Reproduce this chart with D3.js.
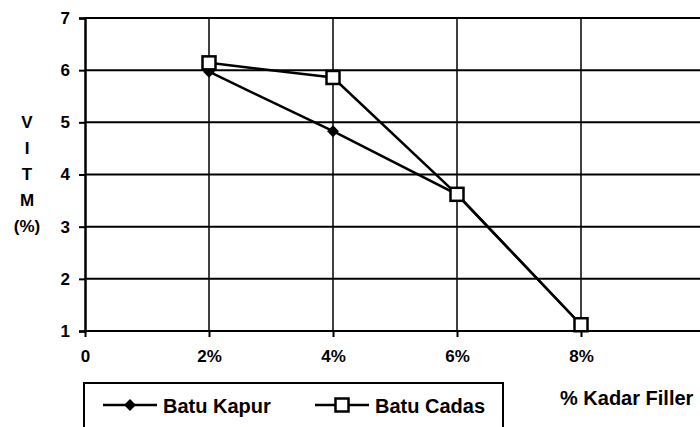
<!DOCTYPE html>
<html>
<head>
<meta charset="utf-8">
<script src="https://cdn.jsdelivr.net/npm/d3@7"></script>
<style>
  body { margin: 0; background: #fff; }
  text { font-family: "Liberation Sans", Arial, sans-serif; font-weight: bold; fill: #000; }
</style>
</head>
<body>
<svg id="chart"></svg>
<script>
// filler content (%) and VITM (%) values
const kadar = [2, 4, 6, 8];
const batuKapur = [5.97, 4.83, 3.62, 1.12];
const batuCadas = [6.14, 5.86, 3.62, 1.12];
const xTicks = [0, 2, 4, 6, 8];
const xTickLabels = ['0', '2%', '4%', '6%', '8%'];
const yTicks = [1, 2, 3, 4, 5, 6, 7];
const seriesNames = ['Batu Kapur', 'Batu Cadas'];

const width = 700, height = 427;
const svg = d3.select('#chart').attr('width', width).attr('height', height);

const x = d3.scaleLinear().domain([0, 10]).range([85, 705]);
const y = d3.scaleLinear().domain([1, 7]).range([331, 18]);

// horizontal gridlines
svg.append('g')
    .selectAll('line')
    .data(yTicks)
  .join('line')
    .attr('x1', x(0)).attr('x2', width)
    .attr('y1', d => y(d)).attr('y2', d => y(d))
    .attr('stroke', '#000').attr('stroke-width', 2);

// vertical gridlines
svg.append('g')
    .selectAll('line')
    .data(xTicks.slice(1))
  .join('line')
    .attr('x1', d => x(d)).attr('x2', d => x(d))
    .attr('y1', y(7)).attr('y2', y(1))
    .attr('stroke', '#000').attr('stroke-width', 1.5);

// y axis
const yAxis = d3.axisLeft(y).tickValues(yTicks).tickSize(6).tickPadding(9).tickFormat(d3.format('d'));
svg.append('g')
    .attr('transform', `translate(${x(0)},0)`)
    .call(yAxis)
    .call(g => g.select('.domain').attr('stroke-width', 2.5))
    .call(g => g.selectAll('.tick line').attr('stroke-width', 2))
    .call(g => g.selectAll('text').style('font-size', '17px'));

// x axis
const xAxis = d3.axisBottom(x).tickValues(xTicks).tickSize(6).tickPadding(13)
    .tickFormat((d, i) => xTickLabels[i]);
svg.append('g')
    .attr('transform', `translate(0,${y(1)})`)
    .call(xAxis)
    .call(g => g.select('.domain').remove())
    .call(g => g.selectAll('.tick line').attr('stroke-width', 2))
    .call(g => g.selectAll('text').style('font-size', '17px'));

// series lines
const line = d3.line().x((d, i) => x(kadar[i])).y(d => y(d));
svg.append('path').datum(batuKapur)
    .attr('d', line).attr('fill', 'none').attr('stroke', '#000').attr('stroke-width', 2.5);
svg.append('path').datum(batuCadas)
    .attr('d', line).attr('fill', 'none').attr('stroke', '#000').attr('stroke-width', 2.5);

// markers
const diamond = d3.symbol().type(d3.symbolDiamond2).size(90);
svg.append('g').selectAll('path')
    .data(batuKapur)
  .join('path')
    .attr('transform', (d, i) => `translate(${x(kadar[i])},${y(d)})`)
    .attr('d', diamond)
    .attr('fill', '#000');

svg.append('g').selectAll('rect')
    .data(batuCadas)
  .join('rect')
    .attr('x', (d, i) => x(kadar[i]) - 6.5)
    .attr('y', d => y(d) - 6.5)
    .attr('width', 13).attr('height', 13)
    .attr('fill', '#fff').attr('stroke', '#000').attr('stroke-width', 2.5);

// y axis title, stacked letters
const yTitle = ['V', 'I', 'T', 'M', '(%)'];
svg.append('g').selectAll('text')
    .data(yTitle)
  .join('text')
    .attr('x', 27)
    .attr('y', (d, i) => 128 + i * 26)
    .attr('text-anchor', 'middle')
    .style('font-size', '17px')
    .text(d => d);

// x axis title
svg.append('text')
    .attr('x', 560).attr('y', 405)
    .style('font-size', '20px')
    .text('% Kadar Filler');

// legend
const legend = svg.append('g');
legend.append('rect')
    .attr('x', 84).attr('y', 383).attr('width', 419).attr('height', 60)
    .attr('fill', '#fff').attr('stroke', '#000').attr('stroke-width', 2);

const lx = [103, 315];
seriesNames.forEach((name, i) => {
  const g = legend.append('g').attr('transform', `translate(${lx[i]},405)`);
  g.append('line').attr('x1', 0).attr('x2', 54).attr('y1', 0).attr('y2', 0)
      .attr('stroke', '#000').attr('stroke-width', 2.5);
  if (i === 0) {
    g.append('path').attr('transform', 'translate(27,0)').attr('d', diamond).attr('fill', '#000');
  } else {
    g.append('rect').attr('x', 20.5).attr('y', -6.5).attr('width', 13).attr('height', 13)
        .attr('fill', '#fff').attr('stroke', '#000').attr('stroke-width', 2.5);
  }
  g.append('text').attr('x', 60).attr('y', 8).style('font-size', '20px').text(name);
});
</script>
</body>
</html>
